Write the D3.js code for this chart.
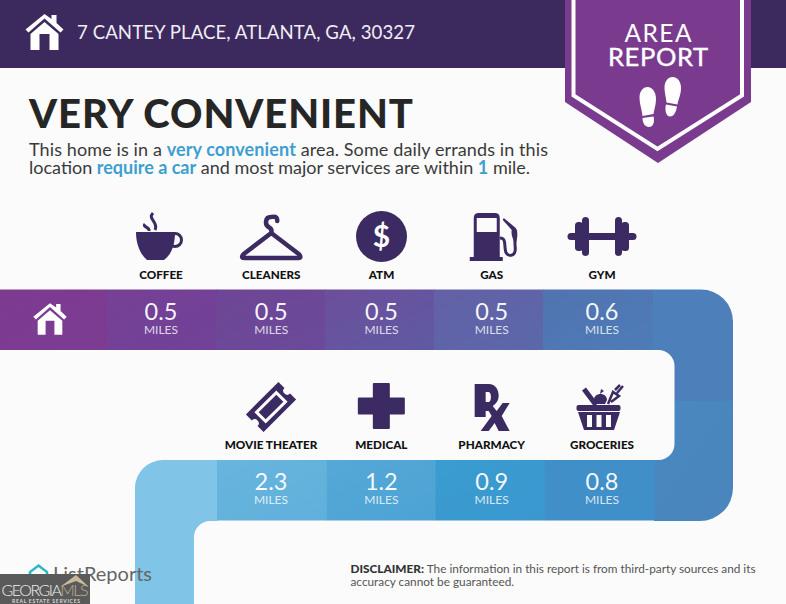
<!DOCTYPE html>
<html>
<head>
<meta charset="utf-8">
<script src="https://d3js.org/d3.v7.min.js"></script>
<style>
  html, body { margin: 0; padding: 0; background: #fbfbfb; }
  svg { display: block; }
  text { font-family: Lato, sans-serif; }
</style>
</head>
<body>
<div id="chart"></div>
<script>
var upperNames = ["COFFEE", "CLEANERS", "ATM", "GAS", "GYM"];
var upperMiles = [0.5, 0.5, 0.5, 0.5, 0.6];
var lowerNames = ["MOVIE THEATER", "MEDICAL", "PHARMACY", "GROCERIES"];
var lowerMiles = [2.3, 1.2, 0.9, 0.8];
var unitLabel = "MILES";

var upperFrom = ["#764096", "#6f4596", "#6d4e9b", "#6460a6", "#5173b0"];
var upperTo = ["#704297", "#6a4b99", "#5f5aa3", "#5a68a9", "#4d7cb7"];
var lowerFrom = ["#68b5de", "#55a8d7", "#3a9cd1", "#418fc8"];
var lowerTo = ["#5fb0db", "#4ca3d4", "#3a98cf", "#3f8fc8"];

var purple = "#3c2a5e";
var navy = "#3c2a63";

var svg = d3.select("#chart").append("svg")
  .attr("width", 786).attr("height", 604);
var defs = svg.append("defs");

svg.append("rect").attr("width", 786).attr("height", 604).attr("fill", "#fbfbfb");
svg.append("rect").attr("width", 786).attr("height", 68).attr("fill", purple);

// same house is used twice, header and start of the road
function house(g, col) {
  g.append("path")
    .attr("fill", col)
    .attr("d", "M0,-18 L7,-13 V-17 H12 V-9 L19,-2.5 L16,0.5 L0,-13.5 L-16,0.5 L-19,-2.5 Z");
  g.append("path")
    .attr("fill", col)
    .attr("fill-rule", "evenodd")
    .attr("d", "M0,-10 L14,2 V18 H-14 V2 Z M-5,2 V18 H5 V2 Z");
}
house(svg.append("g").attr("transform", "translate(44.5,32)"), "#fff");

svg.append("text").attr("x", 77).attr("y", 38.5)
  .attr("font-size", 18.6).attr("fill", "#f1edf5")
  .attr("textLength", 338)
  .text("7 CANTEY PLACE, ATLANTA, GA, 30327");

// badge
svg.append("path").attr("fill", "#7a3b8f")
  .attr("d", "M565,0 H751 V102 L658,163 L565,102 Z");
svg.append("path").attr("fill", "none").attr("stroke", "#fff").attr("stroke-width", 4)
  .attr("d", "M573.5,0 V95.5 L657.5,149 L742,95.5 V0");
svg.append("text").attr("x", 658).attr("y", 42).attr("text-anchor", "middle")
  .attr("font-size", 24.5).attr("font-weight", 400).attr("fill", "#fff")
  .attr("textLength", 67).text("AREA");
svg.append("text").attr("x", 658).attr("y", 65.5).attr("text-anchor", "middle")
  .attr("font-size", 25.5).attr("font-weight", 400).attr("fill", "#fff")
  .attr("stroke", "#fff").attr("stroke-width", 0.4)
  .attr("textLength", 100).text("REPORT");

var feet = svg.append("g").attr("fill", "#fff");
feet.append("path").attr("d", "M639.5,98 C639.5,91 643,87 647.5,87 C652.5,87 656,92 656,99 C656,105 654,110 653.5,114 L642.5,116 C642,110 639.5,104 639.5,98 Z");
feet.append("path").attr("d", "M642.5,118 L653.5,116.5 C655,122 653,127 649,127 C645,127 642.5,123 642.5,118 Z");
feet.append("path").attr("d", "M664.5,88 C664.5,81 668,77 672.5,77 C678,77 681,82 681,88 C681,95 678,100 677.5,104.5 L666.5,102.5 C666,97 664.5,93 664.5,88 Z");
feet.append("path").attr("d", "M666,104.5 L677,106.5 C676,112 674,116.5 670,116.5 C666,116.5 664.5,110 666,104.5 Z");

// headline
svg.append("text").attr("x", 29).attr("y", 128)
  .attr("font-size", 40).attr("font-weight", 900).attr("fill", "#262626")
  .attr("textLength", 384)
  .text("VERY CONVENIENT");

var intro = svg.append("g").attr("font-size", 18).attr("fill", "#3a3a3a");
var line1 = intro.append("text").attr("x", 29).attr("y", 156).attr("textLength", 519);
line1.append("tspan").text("This home is in a ");
line1.append("tspan").attr("font-weight", 700).attr("fill", "#3d9fd0").text("very convenient");
line1.append("tspan").text(" area. Some daily errands in this");
var line2 = intro.append("text").attr("x", 29).attr("y", 174).attr("textLength", 501);
line2.append("tspan").text("location ");
line2.append("tspan").attr("font-weight", 700).attr("fill", "#3d9fd0").text("require a car");
line2.append("tspan").text(" and most major services are within ");
line2.append("tspan").attr("font-weight", 700).attr("fill", "#3d9fd0").text("1");
line2.append("tspan").text(" mile.");

// road: cells come from the band scales, labels from the point scales
var upperY = 290, lowerY = 460;
var xUpper = d3.scaleBand().domain(upperNames).range([107, 652]);
var xLower = d3.scaleBand().domain(lowerNames).range([217, 654]);
var midUpper = d3.scalePoint().domain(upperNames).range([161, 602]);
var midLower = d3.scalePoint().domain(lowerNames).range([271, 602]);

function grad(id, a, b) {
  var g = defs.append("linearGradient").attr("id", id)
    .attr("x1", 0).attr("y1", 0).attr("x2", 1).attr("y2", 1);
  g.append("stop").attr("offset", 0).attr("stop-color", a);
  g.append("stop").attr("offset", 1).attr("stop-color", b);
}
upperNames.forEach(function(d, i) { grad("up" + i, upperFrom[i], upperTo[i]); });
lowerNames.forEach(function(d, i) { grad("lo" + i, lowerFrom[i], lowerTo[i]); });
grad("startCell", "#7d3b90", "#7b3c92");
grad("turnUp", "#4d7fba", "#4d80ba");
grad("turnLo", "#4a88c0", "#4a85bd");

svg.append("rect").attr("x", 0).attr("y", 289.5).attr("width", 107).attr("height", 60.5).attr("fill", "url(#startCell)");
svg.append("path").attr("fill", "url(#turnUp)")
  .attr("d", "M652,289.5 H701 A32,32 0 0 1 733,321.5 V401 H674.5 V366 A16,16 0 0 0 658.5,350 H652 Z");
svg.append("path").attr("fill", "url(#turnLo)")
  .attr("d", "M654,460 H658.5 A16,16 0 0 0 674.5,444 V401 H733 V488 A33,33 0 0 1 700,521 H654 Z");
svg.append("path").attr("fill", "#80c4e8")
  .attr("d", "M217.5,460 H163 A28,28 0 0 0 135,488 V604 H194 V537 A16,16 0 0 1 210,521 H217.5 Z");

function drawRow(names, miles, x, mid, y, top, prefix) {
  svg.append("g").selectAll("rect")
    .data(names)
    .enter().append("rect")
    .attr("x", function(d) { return x(d); })
    .attr("y", top)
    .attr("width", x.bandwidth() + 0.5).attr("height", 60.5)
    .attr("fill", function(d, i) { return "url(#" + prefix + i + ")"; });
  var label = svg.append("g").selectAll("g")
    .data(names)
    .enter().append("g")
    .attr("transform", function(d) { return "translate(" + mid(d) + "," + y + ")"; });
  label.append("text")
    .attr("y", 30).attr("text-anchor", "middle")
    .attr("font-size", 23.5).attr("font-weight", 400).attr("fill", "#fff").attr("fill-opacity", 0.95)
    .text(function(d, i) { return miles[i].toFixed(1); });
  label.append("text")
    .attr("y", 44).attr("text-anchor", "middle")
    .attr("font-size", 12).attr("fill", "#fff").attr("fill-opacity", 0.8)
    .text(unitLabel);
  // names sit above the road
  label.append("text")
    .attr("y", -11.5).attr("text-anchor", "middle")
    .attr("font-size", 11.7).attr("font-weight", 900).attr("fill", "#111")
    .text(function(d) { return d; });
}
drawRow(upperNames, upperMiles, xUpper, midUpper, upperY, 289.5, "up");
drawRow(lowerNames, lowerMiles, xLower, midLower, lowerY, 460, "lo");

house(svg.append("g").attr("transform", "translate(50,319) scale(0.88)"), "#fff");

// icons, origin is the label centre at the top of the road
function iconAt(x, y) {
  return svg.append("g")
    .attr("transform", "translate(" + x + "," + y + ")")
    .attr("fill", navy);
}

var coffee = iconAt(midUpper("COFFEE"), upperY);
coffee.append("path").attr("d", "M-25,-58 H14 C14,-46 11,-36 3,-30 H-14 C-21,-36 -25,-46 -25,-58 Z");
coffee.append("circle").attr("cx", 14).attr("cy", -50).attr("r", 6.5)
  .attr("fill", "none").attr("stroke", navy).attr("stroke-width", 3);
coffee.append("path").attr("fill", "none").attr("stroke", navy).attr("stroke-width", 3)
  .attr("d", "M-8,-77 C-14,-71 -2,-68 -6,-60 M-16,-66 C-19,-63 -11,-63 -12,-59");

var hanger = iconAt(midUpper("CLEANERS"), upperY);
hanger.append("path").attr("fill", "none").attr("stroke", navy).attr("stroke-width", 4.5)
  .attr("stroke-linejoin", "round").attr("stroke-linecap", "round")
  .attr("d", "M6,-69 C6,-75 1,-73 -0.5,-73 C-6,-73 -7,-65 -2,-62.5 C1,-61 0.5,-59 0,-57 L-27.5,-36 Q-31,-32 -27,-32 H27 Q31,-32 27.5,-36 L0,-57");

var atm = iconAt(midUpper("ATM"), upperY);
atm.append("circle").attr("cx", 0).attr("cy", -53.5).attr("r", 25.5);
atm.append("text").attr("x", 0).attr("y", -43).attr("text-anchor", "middle")
  .attr("font-size", 30).attr("font-weight", 700).attr("fill", "#fff").text("$");

var gas = iconAt(midUpper("GAS"), upperY);
gas.append("path").attr("fill-rule", "evenodd")
  .attr("d", "M-18,-72 Q-18,-77 -13,-77 H3 Q8,-77 8,-72 V-33 H11 V-29 H-22 V-33 H-18 Z M-15,-72 V-58 H5 V-72 Z");
gas.append("path").attr("fill", "none").attr("stroke", navy).attr("stroke-width", 3)
  .attr("d", "M8,-52 C15,-52 12,-45 14,-38 C16,-33 24,-33 23.5,-42 C23,-48 23,-55 24,-60");
gas.append("path").attr("d", "M12,-72 L24,-62 C27,-57 25,-50 24,-46 C21,-50 19,-56 20,-60 L11,-70 Z");

var gym = iconAt(midUpper("GYM"), upperY);
gym.append("rect").attr("x", -34.5).attr("y", -57).attr("width", 69).attr("height", 7).attr("rx", 3.5);
[-1, 1].forEach(function(s) {
  gym.append("rect").attr("x", s > 0 ? 13 : -20).attr("y", -73).attr("width", 7).attr("height", 39).attr("rx", 3.5);
  gym.append("rect").attr("x", s > 0 ? 19 : -27).attr("y", -68).attr("width", 8).attr("height", 29).attr("rx", 3.5);
});

var ticket = iconAt(midLower("MOVIE THEATER"), lowerY)
  .append("g").attr("transform", "translate(0,-53) rotate(-45)");
ticket.append("path")
  .attr("d", "M-23,-12.5 H23 V-4 A4,4 0 0 0 23,4 V12.5 H-23 V4 A4,4 0 0 0 -23,-4 Z");
ticket.append("rect").attr("x", -14).attr("y", -6.5).attr("width", 28).attr("height", 13)
  .attr("fill", "none").attr("stroke", "#fff").attr("stroke-width", 3);

var medical = iconAt(midLower("MEDICAL"), lowerY);
medical.append("path").attr("stroke", navy).attr("stroke-width", 2).attr("stroke-linejoin", "round")
  .attr("d", "M-7.5,-76 H7.5 V-61.5 H22.5 V-46.5 H7.5 V-32 H-7.5 V-46.5 H-22.5 V-61.5 H-7.5 Z");

var rx = iconAt(midLower("PHARMACY"), lowerY);
rx.append("path").attr("fill-rule", "evenodd")
  .attr("d", "M-17,-76 H-3 C4,-76 7,-70 7,-64.5 C7,-59 4,-56 1,-54 L5,-49 L11,-57 H18 L10,-44 L18,-29 H7 L3,-37 L-3,-29 H-11 L0,-44 L-3,-49 H-6 V-43 H-17 Z M-6,-68 V-58 H-3 C0,-58 0,-68 -3,-68 Z");

var basket = iconAt(midLower("GROCERIES") - 3, lowerY);
basket.append("path").attr("fill-rule", "evenodd")
  .attr("d", "M-21,-48 H21 L15,-30 H-15 Z M-12,-45 V-33 H-7 V-45 Z M-2.5,-45 V-33 H2.5 V-45 Z M7,-45 V-33 H12 V-45 Z");
basket.append("rect").attr("x", -22.5).attr("y", -55).attr("width", 44).attr("height", 6).attr("rx", 2);
basket.append("path").attr("stroke", navy).attr("stroke-width", 5).attr("fill", "none")
  .attr("d", "M-15,-71 L-3,-55");
basket.append("path").attr("d", "M-5,-60 C-5,-68 8,-68 8,-60 L6,-56 H-2 Z M1,-66 L2,-71 L5,-69 Z");
basket.append("path").attr("fill", "none").attr("stroke", navy).attr("stroke-width", 2.5)
  .attr("d", "M9,-56 L14,-68 L20,-64 L12,-58 M16,-70 L21,-75 M18,-67 L24,-74");

// bottom logos and small print
svg.append("path").attr("fill", "none").attr("stroke", "#2bb8c6").attr("stroke-width", 2.5)
  .attr("d", "M30,575 V572 L38.5,565.5 L47,572 V580");
svg.append("text").attr("x", 53).attr("y", 581).attr("font-size", 20)
  .attr("fill", "#666").attr("textLength", 99)
  .text("ListReports");

svg.append("rect").attr("x", 0).attr("y", 574).attr("width", 90).attr("height", 30).attr("fill", "#5a5a5a");
svg.append("path").attr("fill", "#c9b99b")
  .attr("d", "M60,587 L76,575 L89,587 L76,581 Z");
var mls = svg.append("text").attr("x", 1.5).attr("y", 596).attr("font-size", 16).attr("font-weight", 300)
  .attr("textLength", 87);
mls.append("tspan").attr("fill", "#efefef").text("GEORGIA");
mls.append("tspan").attr("fill", "#bfae8e").text("MLS");
svg.append("text").attr("x", 12).attr("y", 603).attr("font-size", 5).attr("font-weight", 700)
  .attr("fill", "#d8d8d8").attr("textLength", 68)
  .text("REAL ESTATE SERVICES");

var note = svg.append("g").attr("font-size", 11.8).attr("fill", "#555");
var note1 = note.append("text").attr("x", 350.5).attr("y", 573).attr("textLength", 405);
note1.append("tspan").attr("font-weight", 900).attr("fill", "#333").text("DISCLAIMER:");
note1.append("tspan").text(" The information in this report is from third-party sources and its");
note.append("text").attr("x", 350.5).attr("y", 586).text("accuracy cannot be guaranteed.");
</script>
</body>
</html>
